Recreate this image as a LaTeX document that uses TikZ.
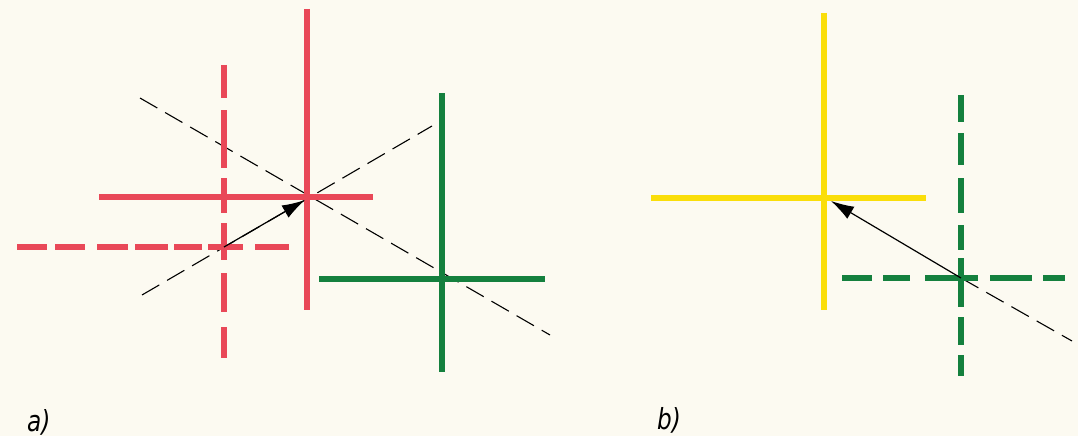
\documentclass[tikz,border=0pt]{standalone}
\usepackage{fontspec}
\newfontfamily\labfont[FakeStretch=0.8]{DejaVu Sans}
\usetikzlibrary{arrows.meta}
\definecolor{paper}{RGB}{252,250,241}
\definecolor{cred}{RGB}{233,72,88}
\definecolor{cgreen}{RGB}{20,128,62}
\definecolor{cyellow}{RGB}{250,222,10}
\tikzset{
  bar/.style={line width=6.5pt},
  guide/.style={line width=1.1pt, dash pattern=on 20pt off 9pt},
  pointer/.style={line width=1.2pt, -{Latex[length=23pt,width=14pt]}},
  lab/.style={font=\labfont\itshape\fontsize{29}{29}\selectfont, anchor=base west, inner sep=0pt}
}
\begin{document}
\begin{tikzpicture}[x=1pt,y=-1pt]
\useasboundingbox (0,0) rectangle (1078,436);
\fill[paper] (0,0) rectangle (1078,436);
% key points
\coordinate (ra) at (307,197);
\coordinate (ta) at (305,200);
\coordinate (rd) at (224,247);
\coordinate (ga) at (442,279);
\coordinate (yb) at (824,198);
\coordinate (tb) at (831,201);
\coordinate (gb) at (961,278);
\coordinate (g1s) at (140,98);
\coordinate (g1e) at (550,335);
\coordinate (g2s) at (142,295);
\coordinate (g2e) at (432,126);
\coordinate (g3e) at (1072,341);
% guide lines
\draw[guide] (g1s) -- (g1e);
\draw[guide] (g2s) -- (g2e);
\draw[guide] (gb) -- (g3e);
% panel a
\draw[bar,cred] (307,9) -- (307,310);
\draw[bar,cred] (99,197) -- (373,197);
\foreach \a/\b in {65/98,110/168,178/213,223/260,273/312,327/358}
  \draw[bar,cred] (224,\a) -- (224,\b);
\foreach \a/\b in {17/47,55/85,97/128,135/168,174/202,208/243,255/289}
  \draw[bar,cred] (\a,247) -- (\b,247);
\draw[bar,cgreen] (442,93) -- (442,372);
\draw[bar,cgreen] (319,279) -- (545,279);
% panel b
\draw[bar,cyellow] (824,13) -- (824,310);
\draw[bar,cyellow] (651,198) -- (926,198);
\foreach \a/\b in {95/122,133/165,178/213,225/250,258/307,317/345,355/376}
  \draw[bar,cgreen] (961,\a) -- (961,\b);
\foreach \a/\b in {842/872,883/910,925/978,990/1032,1043/1065}
  \draw[bar,cgreen] (\a,278) -- (\b,278);
% arrows
\draw[pointer] (rd) -- (ta);
\draw[pointer] (gb) -- (tb);
% labels
\node[lab] (la) at (27,431) {a)};
\node[lab] (lb) at (657,429) {b)};
\end{tikzpicture}
\end{document}
